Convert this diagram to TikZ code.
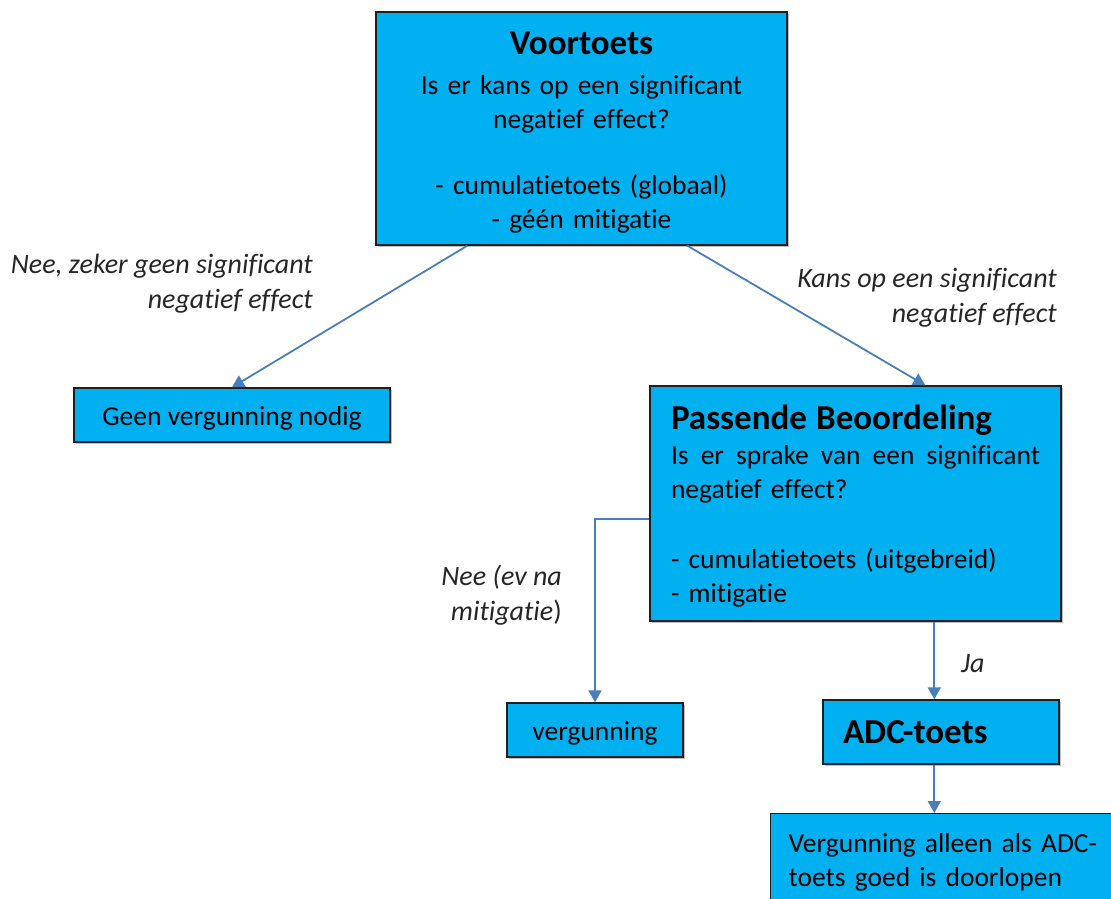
\documentclass[tikz,border=0pt]{standalone}
\usepackage{fontspec}
\setmainfont{Carlito}[Ligatures=NoCommon]
\usetikzlibrary{arrows.meta,calc,shadows}
\definecolor{boxfill}{HTML}{00B0F0}
\definecolor{boxline}{HTML}{1F1F1F}
\definecolor{arrowc}{HTML}{4A7EBB}
\newcommand\myBody{\fontsize{27.5}{34}\selectfont}
\newcommand\myTitle{\fontsize{35}{37}\selectfont\bfseries}
\newcommand\myLab{\fontsize{28}{35}\selectfont\itshape}
\newcommand\myLower[2]{\raisebox{-#1}[\height][\depth]{#2}}
\setlength{\parindent}{0pt}
\tikzset{
  box/.style={draw=boxline, line width=1.4pt, fill=boxfill, inner sep=0pt, font=\myBody,
    drop shadow={shadow xshift=1.5pt, shadow yshift=-1.5pt, fill=black, opacity=0.25}},
  conn/.style={draw=arrowc, line width=1.8pt, -{Triangle[length=12pt,width=13pt]}},
  lab/.style={font=\myLab, align=right, inner sep=0pt, text=black!85},
}
\begin{document}
\begin{tikzpicture}[x=1pt,y=-1pt]
\useasboundingbox (0,0) rectangle (1111,898);
\clip (0,0) rectangle (1111,898);
% boxes
\node[box, minimum width=411pt, minimum height=233pt, text width=400pt, align=center] (voor) at (581.5,128.5)
  {\vspace*{10pt}{\myTitle\myLower{8pt}{Voortoets}\par}\vspace{4pt}Is er kans op een significant\\negatief effect?\par\vspace{32pt}- cumulatietoets (globaal)\\- géén mitigatie};
\node[box, minimum width=316pt, minimum height=54pt] (geen) at (232,415) {\myLower{3pt}{Geen vergunning nodig}};
\node[box, minimum width=411pt, minimum height=235pt, text width=369pt, align=left] (pb) at (855.5,503.5)
  {{\myTitle\myLower{6pt}{Passende Beoordeling}\par}\vspace{7pt}Is\hfill er\hfill sprake\hfill van\hfill een\hfill significant\\negatief effect?\par\vspace{36pt}- cumulatietoets (uitgebreid)\\- mitigatie};
\node[box, minimum width=176pt, minimum height=54pt] (verg) at (595,730) {\myLower{3pt}{vergunning}};
\node[box, minimum width=236pt, minimum height=64pt, text width=196pt, align=left] (adc) at (941,732) {\myTitle ADC-toets};
\node[box, anchor=north west, inner xsep=18pt, inner ysep=20pt, text width=360pt, align=left] (final) at (770,813)
  {Vergunning alleen als ADC-\\toets goed is doorlopen};
% labels
\node[lab, anchor=east] (l1) at (313,284) {Nee, zeker geen significant\\negatief effect};
\node[lab, anchor=east] (l2) at (1057,298) {Kans op een significant\\negatief effect};
\node[lab, anchor=east] (l3) at (562,595) {Nee (ev na\\mitigatie\textup{)}};
\node[lab, anchor=base west] (l4) at (961,672) {Ja};
% connectors
\coordinate (adcin) at ($(adc.north west)+(112,0)$);
\draw[conn] ($(voor.south west)+(92,0)$) -- (geen.north);
\draw[conn] ($(voor.south west)+(312,0)$) -- ($(pb.north west)+(276,0)$);
\draw[conn] ($(pb.north west)+(0,134)$) -| (verg.north);
\draw[conn] (pb.south -| adcin) -- (adcin);
\draw[conn] (adc.south -| adcin) -- (final.north -| adcin);
\end{tikzpicture}
\end{document}
